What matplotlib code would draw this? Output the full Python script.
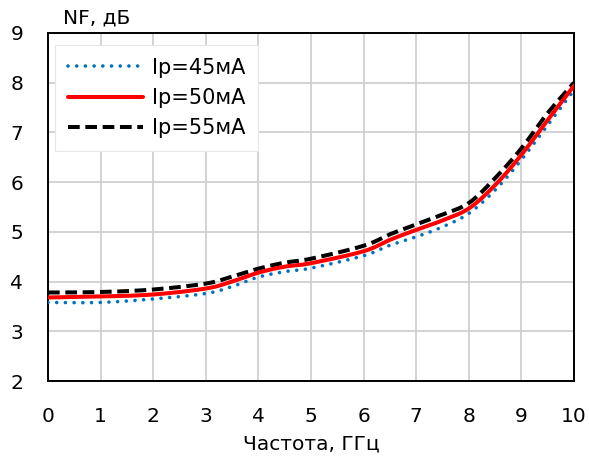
import numpy as np
import matplotlib
matplotlib.use('Agg')
import matplotlib.pyplot as plt

# Частота, ГГц
freq = [0, 1, 2, 3, 3.5, 4, 4.5, 5, 6, 6.5, 7, 7.5, 8, 8.5, 9, 9.5, 10]

# NF, дБ for each bias current
nf_45 = [3.58, 3.58, 3.65, 3.76, 3.90, 4.09, 4.20, 4.27, 4.52, 4.73, 4.90, 5.10, 5.37, 5.84, 6.45, 7.15, 7.85]
nf_50 = [3.68, 3.70, 3.74, 3.86, 4.00, 4.18, 4.30, 4.37, 4.61, 4.84, 5.04, 5.23, 5.47, 5.94, 6.55, 7.25, 7.94]
nf_55 = [3.78, 3.79, 3.84, 3.96, 4.10, 4.26, 4.38, 4.46, 4.72, 4.95, 5.15, 5.35, 5.58, 6.08, 6.68, 7.39, 8.00]

labels = ['Ip=45мА', 'Ip=50мА', 'Ip=55мА']
x_ticks = list(range(0, 11))
y_ticks = list(range(2, 10))


def smooth(x, y, n=20):
    # Catmull-Rom through the read points, like Excel's smoothed line
    x = np.asarray(x, float)
    y = np.asarray(y, float)
    px = np.concatenate([[2 * x[0] - x[1]], x, [2 * x[-1] - x[-2]]])
    py = np.concatenate([[2 * y[0] - y[1]], y, [2 * y[-1] - y[-2]]])
    t = np.linspace(0, 1, n, endpoint=False)[:, None]
    xs, ys = [], []
    for i in range(1, len(px) - 2):
        for arr, out in ((px, xs), (py, ys)):
            p0, p1, p2, p3 = arr[i - 1:i + 3]
            seg = 0.5 * (2 * p1 + (-p0 + p2) * t + (2 * p0 - 5 * p1 + 4 * p2 - p3) * t ** 2
                         + (-p0 + 3 * p1 - 3 * p2 + p3) * t ** 3)
            out.append(seg.ravel())
    xs.append([x[-1]])
    ys.append([y[-1]])
    return np.concatenate(xs), np.concatenate(ys)


plt.rcParams['font.family'] = ['DejaVu Sans']

W, H = 589, 461
fig = plt.figure(figsize=(W / 100, H / 100), dpi=100)
ax = fig.add_axes([48 / W, (H - 381) / H, (574 - 48) / W, (381 - 33) / H])

ax.plot(*smooth(freq, nf_45), color='#0070C0', lw=2.6, linestyle=(0, (0.01, 2.4)),
        dash_capstyle='round', label=labels[0], zorder=3)
ax.plot(*smooth(freq, nf_50), color='#FF0000', lw=2.9, solid_capstyle='round',
        label=labels[1], zorder=4)
ax.plot(*smooth(freq, nf_55), color='black', lw=2.9, linestyle=(0, (2.9, 1.4)),
        dash_capstyle='butt', label=labels[2], zorder=2)

ax.set_xlim(0, 10)
ax.set_ylim(2, 9)
ax.set_xticks(x_ticks)
ax.set_yticks(y_ticks)
ax.tick_params(length=0, labelsize=14.5, colors='black')
ax.tick_params(axis='y', pad=18)
ax.tick_params(axis='x', pad=19)
ax.grid(True, color='#d0d0d0', lw=1.3)
ax.set_axisbelow(True)
for s in ax.spines.values():
    s.set_color('black')
    s.set_linewidth(1.4)

leg = ax.legend(loc='upper left', bbox_to_anchor=(7 / 526, 1 - 12 / 348),
                fontsize=15, frameon=True, fancybox=False, framealpha=1,
                edgecolor='#e6e6e6', handlelength=3.6, handletextpad=0.45,
                labelspacing=0.5, borderpad=0.6, borderaxespad=0)
leg.get_frame().set_linewidth(0.8)
leg.set_zorder(10)

fig.text(63 / W, 1 - 23 / H, 'NF, дБ', fontsize=14.5, va='baseline', ha='left')
fig.text(311 / W, 1 - 449 / H, 'Частота, ГГц', fontsize=14.5, va='baseline', ha='center')

fig.savefig('out.png', dpi=100)
